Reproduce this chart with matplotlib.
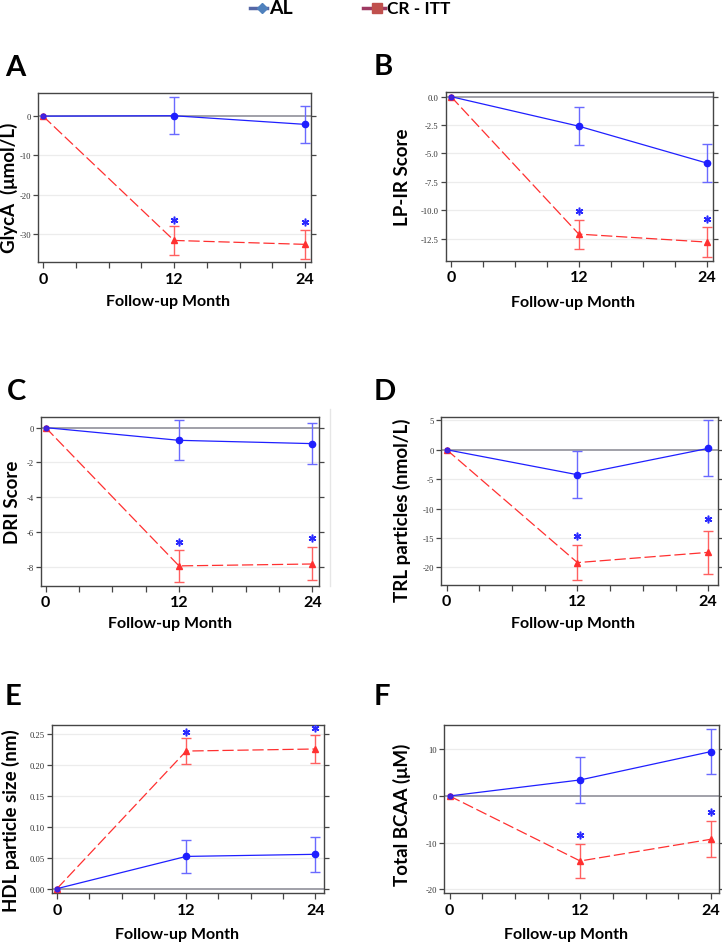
import matplotlib
matplotlib.use('Agg')
import matplotlib.pyplot as plt
from matplotlib.lines import Line2D
from matplotlib.ticker import FixedLocator

plt.rcParams['axes.unicode_minus'] = False

# ---------------- data ----------------
months = [0, 12, 24]
xtick_labels = ['0', '12', '24']
group_names = ['AL', 'CR - ITT']

# A: GlycA
glyca_al = [0, 0.1, -2.1]
glyca_al_err = [0, 4.7, 4.8]
glyca_cr = [0, -31.7, -32.7]
glyca_cr_err = [0, 3.6, 3.7]
glyca_star = [-26.5, -27.0]
glyca_yticks = [0, -10, -20, -30]

# B: LP-IR score
lpir_al = [0, -2.6, -5.84]
lpir_al_err = [0, 1.67, 1.67]
lpir_cr = [0, -12.1, -12.8]
lpir_cr_err = [0, 1.27, 1.3]
lpir_star = [-10.1, -10.8]
lpir_yticks = [0.0, -2.5, -5.0, -7.5, -10.0, -12.5]

# C: DRI score
dri_al = [0, -0.73, -0.92]
dri_al_err = [0, 1.15, 1.2]
dri_cr = [0, -7.96, -7.85]
dri_cr_err = [0, 0.9, 0.95]
dri_star = [-6.58, -6.35]
dri_yticks = [0, -2, -4, -6, -8]

# D: TRL particles
trl_al = [0, -4.25, 0.23]
trl_al_err = [0, 3.97, 4.75]
trl_cr = [0, -19.2, -17.46]
trl_cr_err = [0, 2.95, 3.6]
trl_star = [-14.74, -11.85]
trl_yticks = [5, 0, -5, -10, -15, -20]

# E: HDL particle size
hdl_al = [0, 0.052, 0.0554]
hdl_al_err = [0, 0.026, 0.028]
hdl_cr = [0, 0.222, 0.2253]
hdl_cr_err = [0, 0.0205, 0.022]
hdl_star = [0.2532, 0.2586]
hdl_yticks = [0.00, 0.05, 0.10, 0.15, 0.20, 0.25]

# F: Total BCAA
bcaa_al = [0, 3.44, 9.52]
bcaa_al_err = [0, 4.87, 4.9]
bcaa_cr = [0, -13.96, -9.3]
bcaa_cr_err = [0, 3.65, 3.83]
bcaa_star = [-8.3, -3.5]
bcaa_yticks = [10, 0, -10, -20]

ylabels = ['GlycA  (\u03bcmol/L)', 'LP-IR Score', 'DRI Score',
           'TRL particles (nmol/L)', 'HDL particle size (nm)', 'Total BCAA (\u03bcM)']
letters = ['A', 'B', 'C', 'D', 'E', 'F']

# ---------------- layout ----------------
W, H = 722, 945
fig = plt.figure(figsize=(W / 100, H / 100), dpi=100)

def fx(px):
    return px / W

def fy(py):
    return 1 - py / H

SANS = ['Lato', 'DejaVu Sans']
SERIF = ['Liberation Serif', 'DejaVu Serif']

panels = [
    dict(data=(glyca_al, glyca_al_err, glyca_cr, glyca_cr_err, glyca_star), yt=glyca_yticks, fmt='{:.0f}',
         box=(38, 94, 311, 263), xl=(-0.46, 24.55), yl=(-37.2, 5.9),
         ylab=(9, 187.5), xlab=(168.5, 302), let=(5, 76)),
    dict(data=(lpir_al, lpir_al_err, lpir_cr, lpir_cr_err, lpir_star), yt=lpir_yticks, fmt='{:.1f}',
         box=(445.7, 93, 713, 261.7), xl=(-0.5, 24.6), yl=(-14.44, 0.41),
         ylab=(402, 177.5), xlab=(572.7, 303), let=(374, 75)),
    dict(data=(dri_al, dri_al_err, dri_cr, dri_cr_err, dri_star), yt=dri_yticks, fmt='{:.0f}',
         box=(40.7, 417.7, 319, 586.7), xl=(-0.45, 24.6), yl=(-9.1, 0.63),
         ylab=(13, 502.5), xlab=(170, 624), let=(7, 400)),
    dict(data=(trl_al, trl_al_err, trl_cr, trl_cr_err, trl_star), yt=trl_yticks, fmt='{:.0f}',
         box=(441, 417.7, 718, 585.7), xl=(-0.52, 24.9), yl=(-22.96, 5.62),
         ylab=(402, 510), xlab=(572.7, 624), let=(374, 400)),
    dict(data=(hdl_al, hdl_al_err, hdl_cr, hdl_cr_err, hdl_star), yt=hdl_yticks, fmt='{:.2f}',
         box=(51.7, 725.7, 324.3, 894.3), xl=(-0.49, 24.83), yl=(-0.0075, 0.2645),
         ylab=(11, 821), xlab=(177, 935), let=(5, 705)),
    dict(data=(bcaa_al, bcaa_al_err, bcaa_cr, bcaa_cr_err, bcaa_star), yt=bcaa_yticks, fmt='{:.0f}',
         box=(444.3, 725.7, 719, 894.3), xl=(-0.48, 24.75), yl=(-20.9, 15.3),
         ylab=(402, 814.5), xlab=(566, 935), let=(374, 705)),
]

AL_C = '#1f1fff'
AL_E = '#6a6aff'
CR_C = '#ff3030'
CR_E = '#ff6060'

for i, p in enumerate(panels):
    l, t, r, b = p['box']
    ax = fig.add_axes([fx(l), fy(b), fx(r) - fx(l), (b - t) / H])
    al, al_err, cr, cr_err, star = p['data']
    ax.set_xlim(*p['xl'])
    ax.set_ylim(*p['yl'])

    # grid & zero line
    for v in p['yt']:
        if v != 0:
            ax.axhline(v, color='#ececec', lw=0.9, zorder=0)
    ax.axhline(0, color='#a0a0a8', lw=1.4, zorder=1)

    # CR series
    ax.errorbar(months[1:], cr[1:], yerr=cr_err[1:], fmt='none', ecolor=CR_E,
                elinewidth=1.0, capsize=3.5, capthick=1.0, zorder=2)
    ax.plot(months, cr, color=CR_C, lw=0.9, dashes=(9, 3), marker='^', ms=4,
            mfc=CR_C, mec=CR_C, zorder=3)
    # AL series
    ax.errorbar(months[1:], al[1:], yerr=al_err[1:], fmt='none', ecolor=AL_E,
                elinewidth=1.0, capsize=3.5, capthick=1.0, zorder=2)
    ax.plot(months[1:], al[1:], color=AL_C, lw=0.9, marker='o', ms=4.5,
            mfc=AL_C, mec=AL_C, zorder=4)
    ax.plot(months[:2], al[:2], color=AL_C, lw=0.9, zorder=4)
    ax.plot(months[0], al[0], marker='o', ms=3.5, color=AL_C, alpha=0.8, zorder=5)
    ax.plot(months[0], cr[0], marker='s', ms=3, color=CR_C, zorder=4)

    # significance stars
    ax.plot(months[1:], star, linestyle='none', marker=(6, 2, 0), ms=5.5,
            mew=1.1, color='#2a2aff', zorder=5)

    # axes styling
    for s in ax.spines.values():
        s.set_color('#454545')
        s.set_linewidth(1.0)
    ax.yaxis.set_major_locator(FixedLocator(p['yt']))
    ax.set_yticklabels([p['fmt'].format(v) for v in p['yt']],
                       family=SERIF, fontsize=6.2, color='#333333')
    ax.tick_params(axis='y', which='both', direction='out', length=3.5, width=0.9,
                   color='#454545', left=True, right=True, labelleft=True, pad=1.5)
    ax.set_xticks(months)
    ax.set_xticks([3, 6, 9, 15, 18, 21], minor=True)
    ax.set_xticklabels(xtick_labels, family=SANS, fontsize=11.5, fontweight='bold')
    ax.tick_params(axis='x', which='both', direction='out', length=4, width=0.9,
                   color='#454545', top=False, pad=3)

    # labels
    fig.text(fx(p['ylab'][0]), fy(p['ylab'][1]), ylabels[i], rotation=90,
             ha='center', va='center', family=SANS, fontsize=13.5, fontweight='bold')
    fig.text(fx(p['xlab'][0]), fy(p['xlab'][1]), 'Follow-up Month',
             ha='center', va='center', family=SANS, fontsize=11.5, fontweight='bold')
    fig.text(fx(p['let'][0]), fy(p['let'][1]), letters[i], ha='left', va='baseline',
             family=SANS, fontsize=21, fontweight='bold')

# faint stray vertical line beside panel C
fig.add_artist(Line2D([fx(330), fx(330)], [fy(410), fy(587)], color='#e6e6e6', lw=1))

# ---------------- legend ----------------
ly = fy(9)
fig.add_artist(Line2D([fx(250), fx(267)], [ly, ly], color='#5567a6', lw=2.5))
fig.add_artist(Line2D([fx(261.5)], [ly], marker='D', ms=5.5, color='#4f81bd', lw=0))
fig.text(fx(269), ly, group_names[0], ha='left', va='center', family=SANS,
         fontsize=14, fontweight='bold')
fig.add_artist(Line2D([fx(363), fx(385)], [ly, ly], color='#9e3a62', lw=2.5))
fig.add_artist(Line2D([fx(377)], [ly], marker='s', ms=7, color='#c0504d', lw=0))
fig.text(fx(387), ly, group_names[1], ha='left', va='center', family=SANS,
         fontsize=12.5, fontweight='bold')

fig.savefig('out.png', dpi=100)
